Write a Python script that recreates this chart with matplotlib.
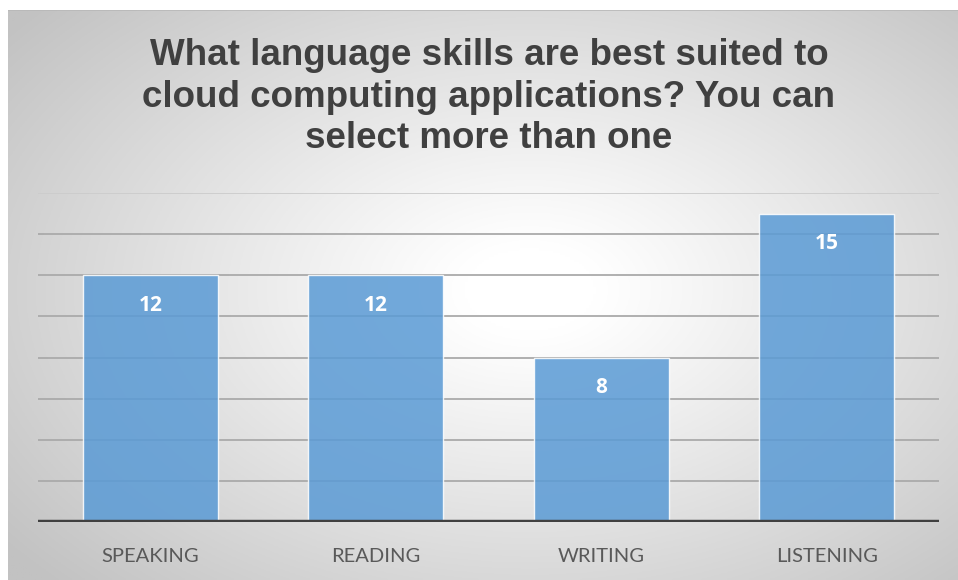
import numpy as np
import matplotlib
matplotlib.use("Agg")
import matplotlib.pyplot as plt

categories = ["SPEAKING", "READING", "WRITING", "LISTENING"]
values = [12, 12, 8, 15]
title = "What language skills are best suited to\ncloud computing applications? You can\nselect more than one"

W, H = 958, 580
fig = plt.figure(figsize=(W / 100, H / 100), dpi=100, facecolor="white")

# panel with a soft radial gradient (white centre, grey edges)
px0, py0 = 8, 10
bg = fig.add_axes([px0 / W, 0, (W - px0) / W, (H - py0) / H], zorder=-5)
gx = np.linspace(px0, W, 400)
gy = np.linspace(py0, H, 250)
X, Y = np.meshgrid(gx, gy)
cx, cy = 530, 290
r = np.sqrt(((X - cx) / 470) ** 2 + ((Y - cy) / 300) ** 2) / np.sqrt(2)
r = np.clip(r, 0, 1)
val = 255 - (255 - 194) * np.clip((r - 0.1) / 0.9, 0, 1) ** 1.05
img = np.dstack([val, val, val]) / 255.0
bg.imshow(img, aspect="auto", extent=[0, 1, 0, 1], origin="upper")
bg.plot([0, 1], [1, 1], color="#b8b8b8", lw=1.2, transform=bg.transAxes)
bg.set_axis_off()

ax = fig.add_axes([37.75 / W, 58 / H, (939.25 - 37.75) / W, (522 - 193) / H])
ax.set_facecolor("none")
x = np.arange(len(categories))
ax.set_xlim(-0.5, len(categories) - 0.5)
ax.set_ylim(0, 16)

for yv in range(2, 17, 2):
    ax.axhline(yv, color="#aaaaaa" if yv < 16 else "#cccccc", lw=1.3, zorder=1)

bars = ax.bar(x, values, width=0.6, color="#5b9bd5", alpha=0.86,
              edgecolor=(1, 1, 1, 0.5), linewidth=1.0, zorder=2)
ax.axhline(0, color="#404040", lw=3.2, zorder=4)

for xi, v in zip(x, values):
    ax.text(xi, v - 1.45, str(v), ha="center", va="center", color="white",
            fontsize=15, fontweight="bold", family="Open Sans", zorder=5)

ax.set_xticks(x)
ax.set_xticklabels(categories, family="Lato", fontsize=14.5, color="#595959")
ax.tick_params(axis="x", length=0, pad=19)
ax.set_yticks([])
for s in ax.spines.values():
    s.set_visible(False)

fig.text(489 / W, 1 - 97 / H, title, ha="center", va="center",
         fontsize=26.5, fontweight="bold", family="Liberation Sans",
         color="#404040", linespacing=1.25)

fig.savefig("out.png", dpi=100, facecolor="white")
